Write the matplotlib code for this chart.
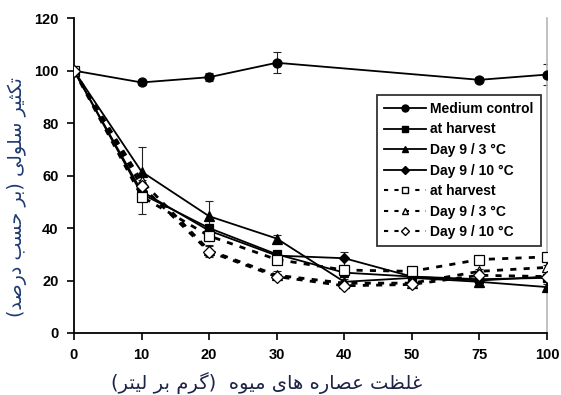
import numpy as np
import matplotlib
matplotlib.use("Agg")
import matplotlib.pyplot as plt
from matplotlib.lines import Line2D

# ---- data -------------------------------------------------------------
concentrations = ["0", "10", "20", "30", "40", "50", "75", "100"]

medium_control = [100, 95.5, 97.5, 103, np.nan, np.nan, 96.5, 98.5]
medium_err = [0, 1, 1.5, 4, np.nan, np.nan, 1, 4]

harvest_filled = [100, 53, 40, 30, 23, 21.5, 20.5, 21]
harvest_filled_err = [0, 1, 1.5, 1, 1, 1, 1, 1]
day3_filled = [100, 61.5, 44.5, 36, 19.5, 21, 19.5, 17.5]
day3_filled_err = [0, 9.5, 6, 1.5, 1, 1, 2, 1]
day10_filled = [100, 54, 39, 29.5, 28.5, 21.5, 20, 21.5]
day10_filled_err = [0, 1, 1, 1, 2.5, 1, 1, 1]

harvest_open = [100, 52, 37, 28, 24, 23.5, 28, 29]
harvest_open_err = [0, 6.5, 2, 1.5, 1.5, 1.5, 1, 1]
day3_open = [100, 58, 31.5, 22, 19, 19, 23.5, 25]
day3_open_err = [0, 2, 2, 1.5, 1, 1, 1, 1]
day10_open = [100, 56, 31, 21.5, 18, 18.5, 22, 21.5]
day10_open_err = [0, 1.5, 2, 1, 1, 1, 1, 1]

legend_labels = ["Medium control", "at harvest", "Day 9 / 3 °C", "Day 9 / 10 °C",
                 "at harvest", "Day 9 / 3 °C", "Day 9 / 10 °C"]

y_label = "تکثیر سلولی (بر حسب درصد)"
x_label = "غلظت عصاره های میوه  (گرم بر لیتر)"

# ---- minimal Persian shaping (contextual forms + visual order) -------
FORMS = {
    "ا": ("\uFE8D", "\uFE8E"),
    "ب": ("\uFE8F", "\uFE90", "\uFE91", "\uFE92"),
    "ت": ("\uFE95", "\uFE96", "\uFE97", "\uFE98"),
    "ث": ("\uFE99", "\uFE9A", "\uFE9B", "\uFE9C"),
    "ح": ("\uFEA1", "\uFEA2", "\uFEA3", "\uFEA4"),
    "د": ("\uFEA9", "\uFEAA"),
    "ر": ("\uFEAD", "\uFEAE"),
    "س": ("\uFEB1", "\uFEB2", "\uFEB3", "\uFEB4"),
    "ص": ("\uFEB9", "\uFEBA", "\uFEBB", "\uFEBC"),
    "ظ": ("\uFEC5", "\uFEC6", "\uFEC7", "\uFEC8"),
    "ع": ("\uFEC9", "\uFECA", "\uFECB", "\uFECC"),
    "غ": ("\uFECD", "\uFECE", "\uFECF", "\uFED0"),
    "ل": ("\uFEDD", "\uFEDE", "\uFEDF", "\uFEE0"),
    "م": ("\uFEE1", "\uFEE2", "\uFEE3", "\uFEE4"),
    "ه": ("\uFEE9", "\uFEEA", "\uFEEB", "\uFEEC"),
    "و": ("\uFEED", "\uFEEE"),
    "ک": ("\uFB8E", "\uFB8F", "\uFB90", "\uFB91"),
    "گ": ("\uFB92", "\uFB93", "\uFB94", "\uFB95"),
    "ی": ("\uFBFC", "\uFBFD", "\uFBFE", "\uFBFF"),
}


def shape_rtl(text):
    out = []
    for i, c in enumerate(text):
        forms = FORMS.get(c)
        if forms is None:
            out.append(c)
            continue
        prev = text[i - 1] if i > 0 else None
        nxt = text[i + 1] if i + 1 < len(text) else None
        join_prev = prev in FORMS and len(FORMS[prev]) == 4
        join_next = len(forms) == 4 and nxt in FORMS
        if join_prev and join_next:
            out.append(forms[3])
        elif join_prev:
            out.append(forms[1])
        elif join_next:
            out.append(forms[2])
        else:
            out.append(forms[0])
    swap = {"(": ")", ")": "("}
    return "".join(swap.get(c, c) for c in reversed(out))


# ---- figure -----------------------------------------------------------
plt.rcParams["font.family"] = ["Liberation Sans", "DejaVu Sans"]
fig = plt.figure(figsize=(5.61, 3.95), dpi=100)
ax = fig.add_axes([0.1319, 0.157, 0.975 - 0.1319, 0.954 - 0.157])

x = np.arange(len(concentrations))


def draw(values, errs, marker, dashed, face, ms):
    v = np.asarray(values, float)
    e = np.asarray(errs, float)
    ok = ~np.isnan(v)
    ls = (0, (2.2, 2.6)) if dashed else "-"
    lw = 2.0 if dashed else 1.3
    ax.errorbar(x[ok], v[ok], yerr=e[ok], fmt="none", ecolor="#222222",
                elinewidth=0.8, capsize=3, capthick=0.8, zorder=2)
    ax.plot(x[ok], v[ok], linestyle=ls, color="black", lw=lw, marker=marker,
            markersize=ms, markerfacecolor=face, markeredgecolor="black",
            markeredgewidth=0.9, zorder=3)


draw(medium_control, medium_err, "o", False, "black", 6.5)
draw(harvest_filled, harvest_filled_err, "s", False, "black", 6)
draw(day3_filled, day3_filled_err, "^", False, "black", 6.5)
draw(day10_filled, day10_filled_err, "D", False, "black", 5)
draw(harvest_open, harvest_open_err, "s", True, "white", 7)
draw(day3_open, day3_open_err, "^", True, "white", 7)
draw(day10_open, day10_open_err, "D", True, "white", 6)

ax.set_xlim(0, 7)
ax.set_ylim(0, 120)
ax.set_xticks(x)
ax.set_xticklabels(concentrations)
ax.set_yticks(np.arange(0, 121, 20))
ax.tick_params(axis="both", direction="out", length=5, width=1.2,
               labelsize=10.5, pad=6)
for lab in ax.get_xticklabels() + ax.get_yticklabels():
    lab.set_fontweight("bold")

ax.spines["top"].set_visible(False)
ax.spines["right"].set_color("#b5b5b5")
ax.spines["right"].set_linewidth(1.2)
ax.spines["left"].set_linewidth(1.3)
ax.spines["bottom"].set_linewidth(1.3)

handles = [
    Line2D([], [], color="black", lw=1.3, marker="o", ms=5, mfc="black"),
    Line2D([], [], color="black", lw=1.3, marker="s", ms=5, mfc="black"),
    Line2D([], [], color="black", lw=1.3, marker="^", ms=5, mfc="black"),
    Line2D([], [], color="black", lw=1.3, marker="D", ms=4, mfc="black"),
    Line2D([], [], color="black", lw=1.5, ls=(0, (2, 3)), marker="s", ms=5, mfc="white"),
    Line2D([], [], color="black", lw=1.5, ls=(0, (2, 3)), marker="^", ms=5, mfc="white"),
    Line2D([], [], color="black", lw=1.5, ls=(0, (2, 3)), marker="D", ms=4, mfc="white"),
]
leg = fig.legend(handles, legend_labels, loc="upper left",
                 bbox_to_anchor=(377 / 561, 1 - 95 / 395),
                 borderaxespad=0,
                 prop={"weight": "bold", "size": 10},
                 frameon=True, fancybox=False, edgecolor="black",
                 handlelength=3.0, handletextpad=0.35, labelspacing=0.47,
                 borderpad=0.5)
leg.get_frame().set_linewidth(1.3)

fig.text(0.03, 0.50, shape_rtl(y_label), rotation=90, ha="center", va="center",
         fontsize=13.8, color="#1f3a70", family="DejaVu Sans")
fig.text(0.475, 0.03, shape_rtl(x_label), ha="center", va="center",
         fontsize=14, color="#1c2448", family="DejaVu Sans")

fig.savefig("out.png", dpi=100)
